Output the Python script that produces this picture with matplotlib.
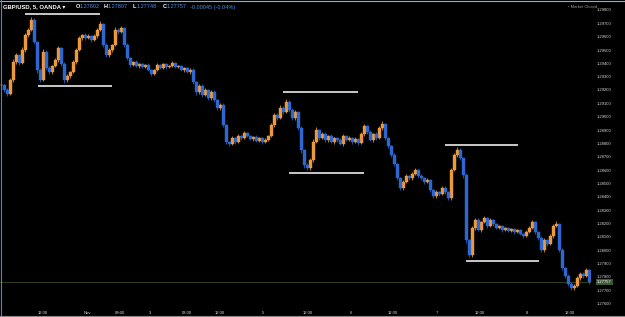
import matplotlib
matplotlib.use('Agg')
import matplotlib.pyplot as plt
import matplotlib.transforms as mtransforms
from matplotlib.lines import Line2D
import numpy as np

plt.rcParams['font.family'] = ['Liberation Sans', 'DejaVu Sans']

# GBP/USD 5 min, closes from left to right
closes = [
    1.29238, 1.29200, 1.29170, 1.29275, 1.29410, 1.29463, 1.29403, 1.29500, 1.29613, 1.29650,
    1.29725, 1.29560, 1.29350, 1.29275, 1.29485, 1.29365, 1.29335, 1.29380, 1.29425, 1.29515,
    1.29395, 1.29275, 1.29305, 1.29335, 1.29410, 1.29500, 1.29590, 1.29613, 1.29590, 1.29605,
    1.29575, 1.29605, 1.29650, 1.29695, 1.29538, 1.29463, 1.29500, 1.29538, 1.29650, 1.29635,
    1.29665, 1.29538, 1.29440, 1.29388, 1.29410, 1.29380, 1.29395, 1.29373, 1.29388, 1.29350,
    1.29320, 1.29350, 1.29388, 1.29365, 1.29395, 1.29373, 1.29380, 1.29403, 1.29373, 1.29380,
    1.29350, 1.29365, 1.29335, 1.29350, 1.29260, 1.29185, 1.29230, 1.29163, 1.29200, 1.29140,
    1.29185, 1.29125, 1.29065, 1.29088, 1.28938, 1.28810, 1.28795, 1.28840, 1.28810, 1.28855,
    1.28840, 1.28878, 1.28855, 1.28833, 1.28848, 1.28818, 1.28840, 1.28810, 1.28825, 1.28855,
    1.28938, 1.29013, 1.28990, 1.29065, 1.29035, 1.29110, 1.29050, 1.28990, 1.29035, 1.28915,
    1.28750, 1.28638, 1.28615, 1.28675, 1.28810, 1.28900, 1.28840, 1.28870, 1.28825, 1.28855,
    1.28810, 1.28840, 1.28825, 1.28795, 1.28855, 1.28825, 1.28840, 1.28810, 1.28833, 1.28803,
    1.28870, 1.28930, 1.28885, 1.28825, 1.28870, 1.28840, 1.28915, 1.28945, 1.28840, 1.28780,
    1.28713, 1.28645, 1.28540, 1.28465, 1.28510, 1.28555, 1.28540, 1.28570, 1.28600, 1.28555,
    1.28540, 1.28510, 1.28525, 1.28450, 1.28405, 1.28435, 1.28420, 1.28465, 1.28435, 1.28390,
    1.28600, 1.28713, 1.28750, 1.28690, 1.28563, 1.28075, 1.27963, 1.28165, 1.28225, 1.28150,
    1.28210, 1.28240, 1.28180, 1.28225, 1.28195, 1.28165, 1.28180, 1.28150, 1.28165, 1.28143,
    1.28158, 1.28135, 1.28150, 1.28120, 1.28105, 1.28135, 1.28165, 1.28210, 1.28135, 1.28090,
    1.28000, 1.28075, 1.28045, 1.28105, 1.28180, 1.28195, 1.28000, 1.27865, 1.27805, 1.27745,
    1.27715, 1.27730, 1.27790, 1.27820, 1.27805, 1.27850, 1.27757,
]

# wick lengths above / below the body, in points (0.00001)
upper_wick = [
    15, 10, 18, 12, 20, 15, 10, 22, 14, 18, 25, 12, 10, 15, 20, 12, 15, 10, 18, 14,
    10, 12, 16, 10, 14, 12, 18, 10, 15, 12, 10, 14, 18, 22, 10, 12, 15, 10, 20, 12,
    15, 10, 12, 8, 10, 12, 8, 10, 9, 12, 8, 10, 12, 7, 10, 8, 9, 12, 7, 10,
    8, 10, 9, 12, 15, 10, 18, 12, 15, 10, 16, 12, 10, 14, 12, 8, 10, 12, 8, 14,
    10, 12, 8, 10, 9, 12, 8, 10, 12, 10, 14, 18, 12, 20, 15, 25, 12, 15, 18, 10,
    12, 10, 14, 18, 20, 22, 10, 12, 15, 10, 12, 9, 10, 12, 14, 10, 12, 9, 11, 10,
    14, 18, 10, 12, 10, 14, 18, 20, 10, 8, 10, 12, 10, 8, 14, 12, 10, 15, 12, 10,
    12, 10, 14, 10, 8, 12, 10, 14, 12, 10, 18, 15, 20, 14, 10, 12, 10, 18, 15, 12,
    10, 14, 9, 12, 10, 8, 11, 9, 10, 8, 10, 8, 9, 11, 10, 12, 14, 18, 10, 9,
    12, 14, 10, 15, 18, 20, 10, 12, 10, 14, 12, 15, 14, 12, 15, 18, 8,
]
lower_wick = [
    12, 18, 15, 10, 12, 18, 15, 10, 12, 14, 10, 15, 22, 18, 10, 16, 12, 14, 10, 12,
    15, 20, 12, 14, 10, 12, 10, 14, 12, 10, 14, 10, 12, 10, 16, 14, 12, 15, 10, 12,
    10, 14, 16, 12, 10, 9, 12, 8, 11, 10, 12, 9, 8, 10, 9, 12, 8, 10, 11, 9,
    10, 12, 10, 14, 18, 20, 12, 16, 10, 14, 12, 15, 14, 12, 18, 15, 12, 10, 14, 9,
    12, 8, 11, 10, 12, 9, 10, 12, 8, 10, 10, 12, 15, 10, 14, 10, 16, 14, 12, 18,
    20, 22, 18, 14, 12, 10, 14, 10, 12, 15, 10, 12, 14, 10, 12, 9, 11, 12, 10, 14,
    10, 12, 14, 10, 15, 12, 10, 12, 14, 16, 15, 18, 14, 16, 12, 10, 14, 12, 10, 12,
    14, 12, 10, 15, 14, 12, 14, 10, 12, 15, 12, 10, 14, 16, 20, 22, 18, 12, 14, 10,
    12, 10, 14, 10, 12, 9, 10, 12, 9, 11, 9, 12, 10, 10, 12, 10, 11, 10, 14, 12,
    18, 14, 12, 10, 12, 10, 15, 18, 14, 16, 15, 12, 10, 12, 14, 10, 12,
]

# white horizontal levels drawn on the chart (price, first bar, last bar)
level_prices = [1.29770, 1.29230, 1.29185, 1.28578, 1.28788, 1.27918]
level_start = [8.0, 12.3, 94.0, 96.0, 148.0, 154.7]
level_end = [33.0, 37.0, 118.7, 120.7, 172.3, 179.3]

time_ticks = [13.8, 28.5, 39.5, 49.5, 61.8, 72.8, 87.2, 102.2, 116.5, 130.5, 145.2, 159.5, 175.2, 189.5]
time_labels = ['12:00', 'Nov', '09:00', '3', '03:00', '12:00', '5', '12:00', '6', '12:00', '7',
               '12:00', '8', '12:00']

price_ticks = [1.276 + 0.001 * k for k in range(23)]

ohlc_names = ['O', 'H', 'L', 'C']
ohlc_values = ['1.27802', '1.27807', '1.27748', '1.27757']
change_text = '-0.00045 (-0.04%)'

up_col = '#ec9a3a'
down_col = '#2d68d2'
text_blue = '#4a8ee0'

W, H = 625, 317
fig = plt.figure(figsize=(W / 100, H / 100), dpi=100, facecolor='black')


def fx(x):
    return x / W


def fy(y):
    return 1 - y / H


ax = fig.add_axes([0, fy(306), fx(591), (306 - 1) / H])
ax.set_facecolor('black')

c = np.array(closes)
o = np.r_[c[0], c[:-1]]
hi = np.maximum(o, c) + np.array(upper_wick) * 1e-5
lo = np.minimum(o, c) - np.array(lower_wick) * 1e-5
idx = np.arange(len(c))
up = c >= o
cols = np.where(up, up_col, down_col)

ax.vlines(idx, lo, hi, colors=cols, lw=0.55)
ax.bar(idx[up], (c - o)[up], bottom=o[up], width=0.7, color=up_col,
       edgecolor=up_col, linewidth=0.3)
ax.bar(idx[~up], (c - o)[~up], bottom=o[~up], width=0.7, color=down_col,
       edgecolor=down_col, linewidth=0.3)

for p, s, e in zip(level_prices, level_start, level_end):
    ax.plot([s, e], [p, p], color='white', lw=1.1, solid_capstyle='butt')

# last price line and its tag
ax.axhline(c[-1], color='#2f3f22', lw=0.7, zorder=0)
trans = mtransforms.blended_transform_factory(ax.transAxes, ax.transData)
ax.text(1.0 + 6 / 591, c[-1], '%.5f' % c[-1], transform=trans, fontsize=3, color='white',
        va='center', ha='left', clip_on=False,
        bbox=dict(boxstyle='square,pad=0.25', fc='#3d5a36', ec='none'))

ax.set_xlim(-0.5, len(c) - 0.5)
ax.set_ylim(1.2758, 1.298675)
ax.yaxis.tick_right()
ax.set_yticks(price_ticks)
ax.set_yticklabels(['%.5f' % p for p in price_ticks])
ax.set_xticks(time_ticks)
ax.set_xticklabels(time_labels)
ax.tick_params(axis='y', length=0, pad=4.3, labelsize=3, labelcolor='#d8d8d8')
ax.tick_params(axis='x', length=0, pad=3.5, labelsize=3, labelcolor='#d8d8d8')
for sp in ax.spines.values():
    sp.set_visible(False)

# header text
fig.text(fx(3), fy(7), 'GBP/USD, 5, OANDA \u25be', fontsize=4.2, fontweight='bold',
         color='white', va='center', ha='left')
ohlc_x = [76, 104, 133, 163]
for name, val, x in zip(ohlc_names, ohlc_values, ohlc_x):
    fig.text(fx(x), fy(7), name, fontsize=4, color='white', fontweight='bold',
             va='center', ha='left')
    fig.text(fx(x + 4), fy(7), val, fontsize=4, color=text_blue, va='center', ha='left')
fig.text(fx(190), fy(7), change_text, fontsize=4, color=text_blue, va='center', ha='left')
fig.text(fx(568), fy(7.5), '\u2022 Market Closed', fontsize=3, color='#9a9a9a',
         va='center', ha='left')

# frame lines
fig.add_artist(Line2D([0, 1], [fy(0.5), fy(0.5)], color='#7ab4e6', lw=0.8))
fig.add_artist(Line2D([fx(0.5), fx(0.5)], [0, 1], color='#3d8ee0', lw=0.8))
fig.add_artist(Line2D([0, 1], [fy(316.3), fy(316.3)], color='#8a8a8a', lw=0.8))

fig.savefig('out.png', dpi=100, facecolor='black')
